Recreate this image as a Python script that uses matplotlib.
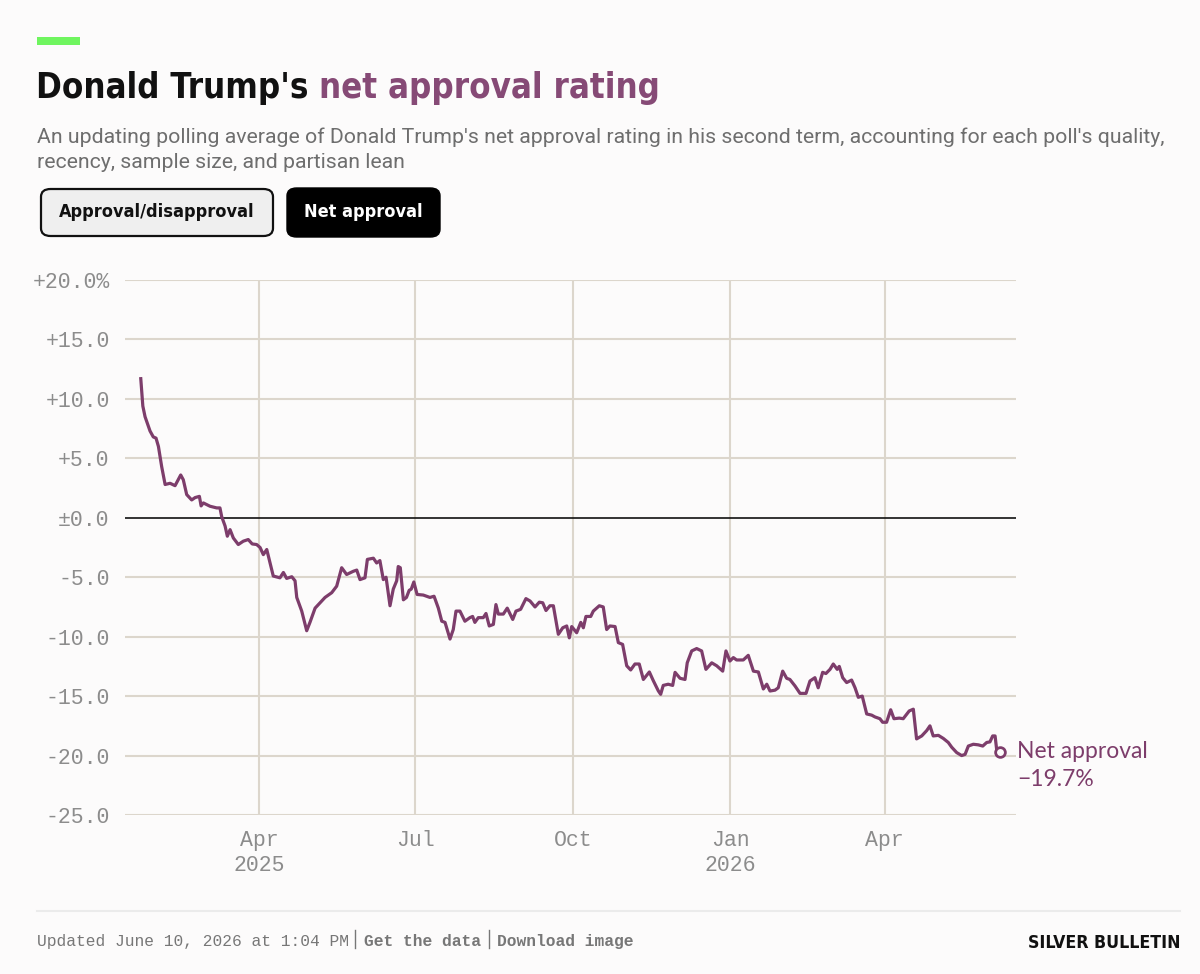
import os
import numpy as np
import matplotlib
matplotlib.use("Agg")
import matplotlib.pyplot as plt
import matplotlib.dates as mdates
import matplotlib.transforms as mtransforms
from matplotlib.patches import FancyBboxPatch, Rectangle
from matplotlib import font_manager
from datetime import datetime

# ── Data: days since inauguration (2025-01-20) and net approval (%) ──────────
days = [2.0, 3.2, 4.5, 7.4, 9.3, 10.9, 12.3, 14.2, 16.2, 19.1, 22.0, 25.3, 26.8,
        28.8, 31.7, 33.7, 36.2, 37.2, 38.5, 42.4, 46.3, 48.2, 49.2, 51.2, 52.5,
        54.1, 56.0, 58.9, 61.8, 64.7, 67.0, 69.6, 71.6, 73.5, 75.5, 79.3, 83.2,
        85.2, 87.1, 90.1, 92.0, 93.0, 95.9, 98.8, 100.7, 103.7, 106.6, 109.5,
        113.4, 116.3, 119.2, 122.1, 126.0, 128.0, 129.9, 132.8, 134.2, 137.7,
        139.6, 141.5, 143.5, 145.1, 147.4, 149.3, 151.3, 152.2, 153.4, 155.2,
        157.0, 158.6, 159.8, 161.3, 163.2, 166.8, 170.7, 173.1, 175.6, 177.6,
        179.5, 182.4, 184.3, 185.9, 188.2, 191.1, 194.0, 195.6, 196.9, 198.9,
        201.8, 203.4, 205.3, 207.7, 209.2, 210.6, 213.5, 215.8, 219.0, 220.9,
        223.6, 226.7, 229.1, 232.0, 234.5, 236.5, 238.4, 240.7, 242.7, 245.6,
        248.2, 250.5, 252.0, 253.4, 256.3, 258.7, 260.2, 261.7, 264.5, 266.0,
        269.5, 271.8, 273.8, 275.7, 278.7, 280.6, 283.1, 285.5, 287.8, 290.3,
        292.8, 295.2, 298.7, 301.0, 303.9, 305.3, 306.8, 309.7, 312.3, 313.7,
        316.6, 319.5, 320.8, 323.4, 326.3, 329.2, 331.7, 335.1, 338.0, 341.5,
        343.4, 345.7, 347.7, 349.6, 353.5, 356.4, 359.4, 362.3, 365.2, 367.2,
        369.1, 372.0, 373.9, 376.5, 378.8, 380.7, 383.7, 386.6, 390.1, 392.4,
        395.3, 397.2, 399.8, 401.7, 404.1, 406.0, 408.3, 409.5, 411.5, 413.8,
        416.7, 418.7, 420.6, 422.9, 425.5, 428.4, 430.3, 433.2, 434.8, 437.1,
        439.5, 441.4, 444.5, 446.8, 450.3, 452.7, 454.6, 457.6, 460.5, 462.4,
        464.3, 467.3, 470.2, 473.1, 475.1, 478.0, 480.9, 482.9, 484.8, 487.7,
        490.6, 493.2, 495.5, 497.4, 499.0, 500.4, 501.4, 503.3]
net = [11.7, 9.4, 8.5, 7.3, 6.8, 6.7, 6.0, 4.3, 2.8, 2.9, 2.7, 3.6, 3.2,
       1.95, 1.5, 1.7, 1.8, 1.0, 1.25, 0.97, 0.83, 0.83, 0.1, -0.7, -1.55,
       -1.0, -1.7, -2.25, -1.97, -1.83, -2.2, -2.25, -2.5, -3.1, -2.67, -4.9, -5.05,
       -4.6, -5.1, -4.96, -5.3, -6.7, -7.85, -9.5, -8.8, -7.6, -7.15, -6.7,
       -6.3, -5.75, -4.2, -4.77, -4.5, -4.4, -5.2, -5.05, -3.5, -3.4,
       -3.8, -3.6, -5.2, -5.0, -7.4, -6.0, -5.3, -4.1, -4.2, -6.9,
       -6.7, -6.1, -6.0, -5.4, -6.45, -6.5, -6.7, -6.6, -7.6, -8.7,
       -8.8, -10.2, -9.4, -7.85, -7.85, -8.7, -8.4, -8.3, -8.8, -8.4,
       -8.4, -8.05, -9.1, -8.97, -7.3, -8.1, -8.1, -7.6, -8.55, -7.85,
       -7.7, -6.8, -7.0, -7.5, -7.1, -7.15, -7.8, -7.4, -7.4, -9.8,
       -9.25, -9.1, -10.1, -9.15, -9.67, -8.8, -9.25, -8.3, -8.3, -7.85,
       -7.4, -7.5, -9.4, -9.1, -9.15, -10.5, -10.65, -12.45, -12.8, -12.3,
       -12.3, -13.6, -12.97, -13.7, -14.55, -14.85, -14.1, -14.0, -14.1, -13.0,
       -13.5, -13.6, -12.2, -11.2, -11.0, -11.2, -12.75, -12.2, -12.45, -12.9,
       -11.2, -12.05, -11.76, -11.96, -11.96, -11.57, -12.9, -12.97, -14.4, -14.0,
       -14.57, -14.5, -14.3, -12.9, -13.5, -13.6, -14.15, -14.77, -14.77, -13.73,
       -13.45, -14.3, -13.0, -13.1, -12.75, -12.3, -12.75, -12.5, -13.45, -13.86,
       -13.65, -14.3, -15.1, -15.0, -16.5, -16.6, -16.75, -16.9, -17.2, -17.2,
       -16.15, -16.9, -16.85, -16.9, -16.25, -16.1, -18.6, -18.35, -17.9, -17.5,
       -18.35, -18.3, -18.56, -18.9, -19.3, -19.75, -20.0, -19.9, -19.2, -19.05,
       -19.1, -19.2, -18.9, -18.85, -18.35, -18.35, -19.6, -19.7]

y_ticks = [20, 15, 10, 5, 0, -5, -10, -15, -20, -25]
y_labels = ["+20.0%", "+15.0", "+10.0", "+5.0", "±0.0", "-5.0", "-10.0",
            "-15.0", "-20.0", "-25.0"]
x_ticks = ["2025-04-01", "2025-07-01", "2025-10-01", "2026-01-01", "2026-04-01"]
x_labels = ["Apr\n2025", "Jul", "Oct", "Jan\n2026", "Apr"]
latest_label = "−19.7%"

# ── Style ────────────────────────────────────────────────────────────────────
BG = "#fcfbfb"
PURPLE = "#7d3d6b"
TITLE_PURPLE = "#864a76"
GRID = "#dcd6cc"
TICK = "#8c8c8c"
MONO = ["Liberation Mono", "DejaVu Sans Mono"]
SANS = "Roboto"


# pick a condensed bold face if one is installed
def condensed_bold():
    wanted = ["dejavusanscondensed-bold.ttf", "liberationsansnarrow-bold.ttf",
              "robotocondensed-bold.ttf", "opensans-condensedbold.ttf"]
    files = {os.path.basename(f.fname).lower(): f.fname
             for f in font_manager.fontManager.ttflist}
    for w in wanted:
        if w in files:
            return font_manager.FontProperties(fname=files[w])
    for name, path in files.items():
        if ("condensed" in name or "narrow" in name) and "bold" in name:
            return font_manager.FontProperties(fname=path)
    return font_manager.FontProperties(family="DejaVu Sans", weight="bold")


COND = condensed_bold()

W, H = 1200, 974
fig = plt.figure(figsize=(W / 100, H / 100), dpi=100, facecolor=BG)
renderer = fig.canvas.get_renderer()


def fx(x):
    return x / W


def fy(y):
    return 1 - y / H


def width_of(t):
    return t.get_window_extent(renderer=renderer).width


def fit(t, target_px):
    # scale font size so the text spans target_px
    t.set_fontsize(t.get_fontsize() * target_px / width_of(t))
    return t.get_fontsize()


# ── Header ───────────────────────────────────────────────────────────────────
fig.patches.append(Rectangle((fx(37), fy(45)), 43 / W, 8 / H, transform=fig.transFigure,
                             facecolor="#6ff55f", edgecolor="none"))

probe = fig.text(0, 0, "Donald Trump's net approval rating", fontproperties=COND, fontsize=30)
tsize = fit(probe, 623)
probe.remove()
t1 = fig.text(fx(36), fy(98), "Donald Trump's ", fontproperties=COND, fontsize=tsize,
              color="#111111", va="baseline")
fig.text(fx(36) + width_of(t1) / W, fy(98), "net approval rating", fontproperties=COND,
         fontsize=tsize, color=TITLE_PURPLE, va="baseline")

s1 = fig.text(fx(37), fy(143), "An updating polling average of Donald Trump's net approval rating "
              "in his second term, accounting for each poll's quality,",
              fontsize=14, family=SANS, color="#6e6e6e", va="baseline")
ssize = fit(s1, 1138)
fig.text(fx(37), fy(168), "recency, sample size, and partisan lean",
         fontsize=ssize, family=SANS, color="#6e6e6e", va="baseline")

# buttons
fig.patches.append(FancyBboxPatch((fx(41), fy(236)), 232 / W, 47 / H,
                                  boxstyle="round,pad=0,rounding_size=0.008",
                                  transform=fig.transFigure, facecolor="#efefef",
                                  edgecolor="#111111", linewidth=1.6))
b1 = fig.text(fx(157), fy(212), "Approval/disapproval", fontproperties=COND, fontsize=13,
              color="#111111", ha="center", va="center")
bsize = fit(b1, 195)
fig.patches.append(FancyBboxPatch((fx(287), fy(237)), 153 / W, 49 / H,
                                  boxstyle="round,pad=0,rounding_size=0.008",
                                  transform=fig.transFigure, facecolor="#000000",
                                  edgecolor="#000000", linewidth=1))
fig.text(fx(363), fy(212), "Net approval", fontproperties=COND, fontsize=bsize,
         color="white", ha="center", va="center")

# ── Chart ────────────────────────────────────────────────────────────────────
ax = fig.add_axes([fx(125), fy(815), (1016 - 125) / W, (815 - 280) / H])
ax.set_facecolor(BG)

start = mdates.date2num(datetime(2025, 1, 20))
x = start + np.array(days)
ax.plot(x, net, color=PURPLE, linewidth=2.3, solid_joinstyle="round", zorder=4)
ax.plot(x[-1], net[-1], "o", markersize=7, markerfacecolor=BG,
        markeredgecolor=PURPLE, markeredgewidth=2, zorder=5)

ax.set_ylim(-25, 20)
ax.set_xlim(start - 7.2, start + 512.6)
ax.set_yticks(y_ticks)
ax.set_yticklabels(y_labels)
xt = [mdates.date2num(datetime.strptime(d, "%Y-%m-%d")) for d in x_ticks]
ax.set_xticks(xt)
ax.set_xticklabels(x_labels)

for yv in y_ticks:
    if yv == 0:
        ax.axhline(0, color="#111111", linewidth=1.2, zorder=3)
    else:
        ax.axhline(yv, color=GRID, linewidth=1.5, zorder=1)
for xv in xt:
    ax.axvline(xv, color=GRID, linewidth=1.5, zorder=1)

for s in ax.spines.values():
    s.set_visible(False)
ax.tick_params(length=0, labelsize=15.5, labelcolor=TICK)
ax.tick_params(axis="y", pad=11)
ax.tick_params(axis="x", pad=11)
for lab in ax.get_xticklabels() + ax.get_yticklabels():
    lab.set_family(MONO)
    lab.set_linespacing(1.25)

off1 = ax.transData + mtransforms.ScaledTranslation(0.17, 0, fig.dpi_scale_trans)
off2 = ax.transData + mtransforms.ScaledTranslation(0.17, -0.28, fig.dpi_scale_trans)
lab1 = ax.text(x[-1], net[-1], "Net approval", transform=off1, fontsize=16, family="Lato",
               color=PURPLE, va="center", ha="left", clip_on=False)
lsize = fit(lab1, 131)
ax.text(x[-1], net[-1], latest_label, transform=off2, fontsize=lsize, family="Lato",
        color=PURPLE, va="center", ha="left", clip_on=False)

# ── Footer ───────────────────────────────────────────────────────────────────
fig.lines.append(plt.Line2D([fx(37), fx(1180)], [fy(911), fy(911)],
                            transform=fig.transFigure, color="#ebebeb", linewidth=1.5))
ft = fig.text(fx(37), fy(946), "Updated June 10, 2026 at 1:04 PM", fontsize=11,
              family=MONO, color="#777777", va="baseline")
fsize = fit(ft, 310)
fig.text(fx(364), fy(946), "Get the data", fontsize=fsize, family=MONO, fontweight="bold",
         color="#777777", va="baseline")
fig.text(fx(497), fy(946), "Download image", fontsize=fsize, family=MONO, fontweight="bold",
         color="#777777", va="baseline")
for sx in (355, 489):
    fig.lines.append(plt.Line2D([fx(sx), fx(sx)], [fy(948), fy(930)],
                                transform=fig.transFigure, color="#777777", linewidth=1))

logo = fig.text(fx(1180), fy(948), "SILVER BULLETIN", fontproperties=COND, fontsize=15,
                color="#111111", ha="right", va="baseline")
fit(logo, 152)

fig.savefig("out.png", dpi=100, facecolor=BG)
